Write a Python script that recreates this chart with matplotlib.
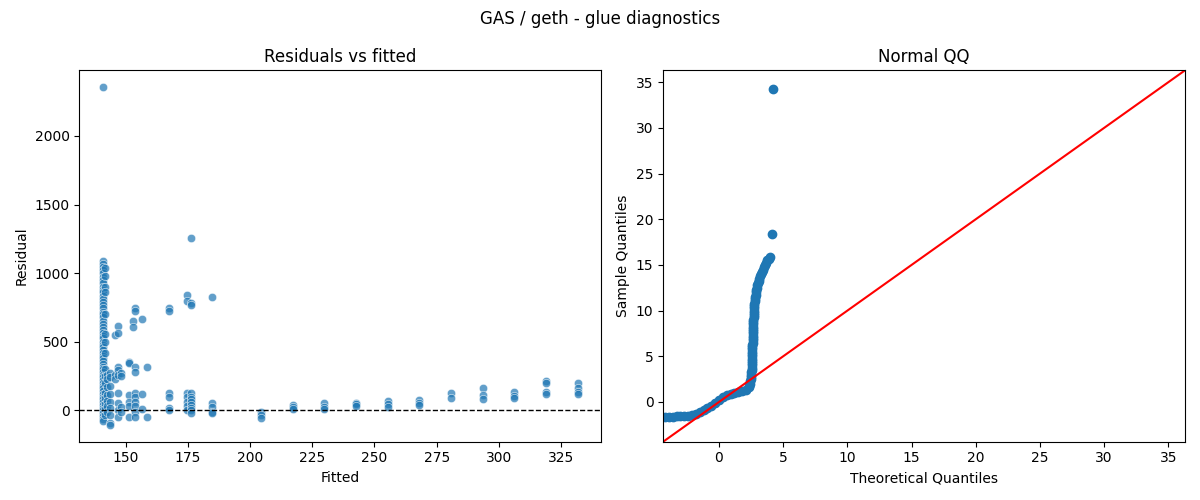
import numpy as np
import matplotlib
matplotlib.use("Agg")
import matplotlib.pyplot as plt
import seaborn as sns

# residuals vs fitted: fitted levels and the residuals seen at each level
fitted_levels = [141.0, 141.8, 142.5, 143.6, 145.7, 146.9, 148.0, 151.3, 153.0, 154.0,
                 156.6, 158.5, 167.3, 174.7, 176.4, 184.7, 204.5, 217.3, 229.8, 242.5,
                 255.5, 267.9, 280.6, 293.5, 306.0, 318.8, 331.6]
resid_at_level = [
    [2355, 1086, 1065, 1045, 1020, 1000, 975, 950, 925, 900, 880, 860, 835, 810, 790,
     770, 745, 720, 700, 680, 655, 630, 610, 585, 565, 545, 525, 500, 480, 460, 440,
     420, 400, 380, 360, 340, 320, 300, 280, 260, 240, 220, 200, 180, 160, 140, 120,
     100, 80, 60, 40, 20, 0, -20, -40, -60, -75],
    [1040, 980, 900, 860, 700, 560, 500, 420, 300, 250, 200, 130, 90, 50, 10, -30],
    [260, 230, 170, 110, 70, 30, -10],
    [270, 240, 180, 120, 60, 20, -30, -90, -105],
    [551, 260, 230],
    [617, 563, 320, 296, 259, 125, 52, 0, -45],
    [276, 250, 28, -10],
    [356, 345, 113, 60, 30, -45],
    [653, 607],
    [746, 721, 313, 283, 125, 100, 60, 30, -10, -45],
    [668, 120, 10],
    [320, -45],
    [746, 721, 125, 101, 20, 4],
    [843, 799, 125, 100, 60, 30, 4],
    [1256, 782, 770, 125, 100, 80, 60, 40, 20, 0, -20],
    [826, 52, 28, -8, -20],
    [-9, -33, -57],
    [40, 25, 10],
    [57, 28, 9],
    [57, 45, 33],
    [72, 47, 28],
    [77, 57, 38],
    [125, 89],
    [162, 113, 80],
    [137, 108, 89],
    [218, 200, 137, 120],
    [198, 162, 137, 120],
]

# normal QQ: theoretical vs sample quantiles
qq_theo = [-4.2, -3.9, -3.6, -3.3, -3.0, -2.7, -2.4, -2.1, -1.8, -1.5, -1.2, -0.9,
           -0.6, -0.3, 0.0, 0.3, 0.6, 0.9, 1.2, 1.5, 1.8, 2.1, 2.3,
           2.36, 2.40, 2.44, 2.47, 2.49, 2.51, 2.53, 2.54, 2.55, 2.56, 2.57, 2.58,
           2.585, 2.59, 2.595, 2.60, 2.60, 2.60, 2.605, 2.61, 2.615, 2.62, 2.625, 2.63,
           2.635, 2.64, 2.65, 2.66, 2.67, 2.68, 2.69, 2.70, 2.71, 2.72, 2.73, 2.74,
           2.76, 2.78, 2.80, 2.82, 2.85, 2.88, 2.91, 2.95, 2.99, 3.03, 3.08, 3.13,
           3.19, 3.26, 3.33, 3.40, 3.48, 3.57, 3.66, 3.76, 3.86, 3.96, 4.09, 4.19]
qq_sample = [-1.62, -1.60, -1.60, -1.58, -1.56, -1.54, -1.50, -1.42, -1.30, -1.10, -0.85,
             -0.65, -0.40, -0.15, 0.25, 0.55, 0.72, 0.85, 0.95, 1.05, 1.15, 1.30, 1.60,
             1.8, 2.0, 2.25, 2.5, 2.75, 3.0, 3.25, 3.5, 3.75, 4.0, 4.25, 4.5,
             4.75, 5.0, 5.25, 5.5, 5.75, 6.0, 6.25, 6.5, 6.75, 7.0, 7.25, 7.5,
             7.75, 8.0, 8.25, 8.5, 8.75, 9.0, 9.25, 9.5, 9.75, 10.0, 10.25, 10.5,
             10.75, 11.0, 11.25, 11.5, 11.75, 12.0, 12.25, 12.5, 12.75, 13.0, 13.25, 13.5,
             13.75, 14.0, 14.25, 14.5, 14.75, 15.0, 15.25, 15.5, 15.7, 15.9, 18.35, 34.3]

fitted = []
resid = []
for f, rs in zip(fitted_levels, resid_at_level):
    fitted += [f] * len(rs)
    resid += rs

fig, (ax1, ax2) = plt.subplots(1, 2, figsize=(12, 5))

sns.scatterplot(x=fitted, y=resid, alpha=0.7, ax=ax1)
ax1.axhline(0, color="black", linestyle="--", linewidth=1)
ax1.set_title("Residuals vs fitted")
ax1.set_xlabel("Fitted")
ax1.set_ylabel("Residual")

ax2.plot(qq_theo, qq_sample, marker="o", linestyle="None",
         markerfacecolor="C0", markeredgecolor="C0")
lims = (-4.35, 36.3)
ax2.plot(lims, lims, color="r")
ax2.set_xlim(lims)
ax2.set_ylim(lims)
ax2.set_title("Normal QQ")
ax2.set_xlabel("Theoretical Quantiles")
ax2.set_ylabel("Sample Quantiles")

fig.suptitle("GAS / geth - glue diagnostics")
plt.tight_layout()
plt.savefig("out.png", dpi=100)
